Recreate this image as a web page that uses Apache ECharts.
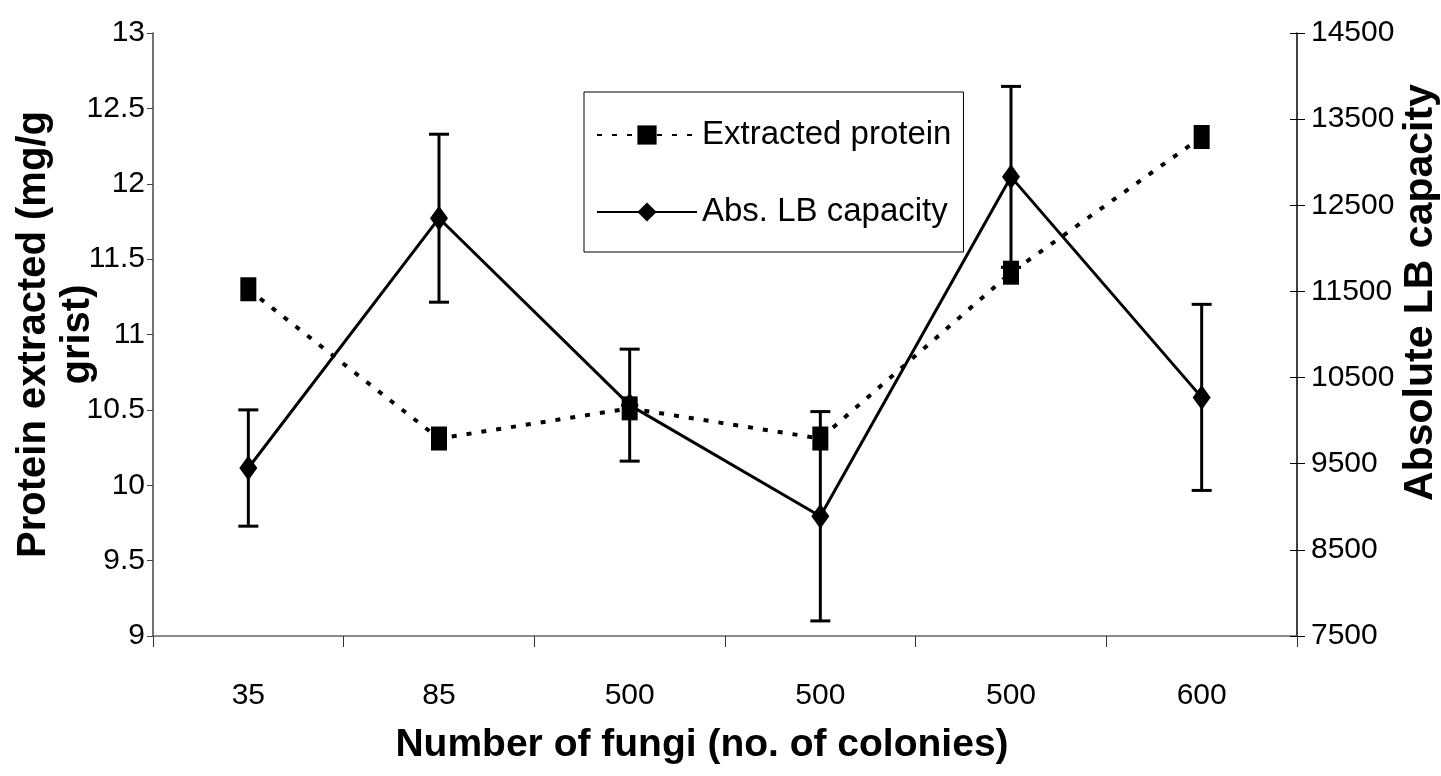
<!DOCTYPE html>
<html>
<head>
<meta charset="utf-8">
<script src="https://cdn.jsdelivr.net/npm/echarts@6/dist/echarts.min.js"></script>
<style>
  html, body { margin: 0; padding: 0; background: #fff; }
  #chart { width: 1441px; height: 776px; }
</style>
</head>
<body>
<div id="chart"></div>
<script>
// Colony counts on the x axis (repeated counts are separate samples)
const categories = ['35', '85', '500', '500', '500', '600'];
// Protein extracted, mg/g grist (left axis)
const extractedProtein = [11.30, 10.31, 10.51, 10.31, 11.41, 12.31];
// Absolute LB capacity (right axis) and its error half-widths
const lbCapacity = [9450, 12350, 10180, 8890, 12830, 10270];
const lbCapacityErr = [675, 975, 650, 1215, 1050, 1080];
// Axis ranges
const proteinAxis = { min: 9, max: 13, interval: 0.5 };
const lbAxis = { min: 7500, max: 14500, interval: 1000 };

const font = '"Liberation Sans", Arial, sans-serif';

const errorData = lbCapacity.map((v, i) => [i, v - lbCapacityErr[i], v + lbCapacityErr[i]]);

const chart = echarts.init(document.getElementById('chart'), null, { renderer: 'canvas' });

chart.setOption({
  backgroundColor: '#fff',
  animation: false,
  grid: { left: 153, right: 144, top: 33, bottom: 140, containLabel: false, outerBoundsMode: 'none' },
  legend: {
    data: ['Extracted protein', 'Abs. LB capacity'],
    orient: 'vertical',
    left: 584,
    top: 92,
    padding: [21, 12, 18, 12],
    itemGap: 33,
    itemWidth: 100,
    itemHeight: 24,
    borderColor: '#000',
    borderWidth: 1,
    textStyle: { fontSize: 33, fontFamily: font, color: '#000', lineHeight: 44 }
  },
  xAxis: {
    type: 'category',
    data: categories,
    boundaryGap: true,
    axisLine: { lineStyle: { color: '#666', width: 1.5 } },
    axisTick: { show: true, length: 11, lineStyle: { color: '#333', width: 1 } },
    axisLabel: { interval: 0, fontSize: 30, fontFamily: font, color: '#000', margin: 45 },
    name: 'Number of fungi (no. of colonies)',
    nameLocation: 'middle',
    nameGap: 90,
    nameMoveOverlap: false,
    nameTextStyle: {
      fontSize: 39, fontWeight: 'bold', fontFamily: font, color: '#000',
      padding: [0, 46, 0, 0]
    }
  },
  yAxis: [
    {
      type: 'value',
      position: 'left',
      min: proteinAxis.min, max: proteinAxis.max, interval: proteinAxis.interval,
      axisLine: { show: true, lineStyle: { color: '#444', width: 1.5 } },
      axisTick: { show: true, length: 6, lineStyle: { color: '#444' } },
      splitLine: { show: false },
      axisLabel: { fontSize: 30, fontFamily: font, color: '#000', margin: 8, formatter: v => String(v) },
      name: 'Protein extracted (mg/g\ngrist)',
      nameLocation: 'middle',
      nameRotate: 90,
      nameGap: 53,
      nameMoveOverlap: false,
      nameTextStyle: { fontSize: 40, fontWeight: 'bold', fontFamily: font, color: '#000', lineHeight: 44 }
    },
    {
      type: 'value',
      position: 'right',
      min: lbAxis.min, max: lbAxis.max, interval: lbAxis.interval,
      axisLine: { show: true, lineStyle: { color: '#000', width: 1.5 } },
      axisTick: { show: true, length: 8, lineStyle: { color: '#000' } },
      splitLine: { show: false },
      axisLabel: { fontSize: 30, fontFamily: font, color: '#000', margin: 14, formatter: v => String(v) },
      name: 'Absolute LB capacity',
      nameLocation: 'middle',
      nameRotate: 90,
      nameGap: 103,
      nameMoveOverlap: false,
      nameTextStyle: {
        fontSize: 41, fontWeight: 'bold', fontFamily: font, color: '#000',
        padding: [0, 0, 0, 84]
      }
    },
    {
      // inner half of the crossing ticks on the right axis
      type: 'value',
      position: 'right',
      min: lbAxis.min, max: lbAxis.max, interval: lbAxis.interval,
      axisLine: { show: false },
      axisTick: { show: true, inside: true, length: 7, lineStyle: { color: '#000' } },
      axisLabel: { show: false },
      splitLine: { show: false }
    }
  ],
  series: [
    {
      name: 'Abs. LB capacity error',
      type: 'custom',
      yAxisIndex: 1,
      z: 2,
      encode: { x: 0, y: [1, 2] },
      data: errorData,
      renderItem: function (params, api) {
        const x = api.value(0);
        const lo = api.coord([x, api.value(1)]);
        const hi = api.coord([x, api.value(2)]);
        const half = 10;
        const style = { stroke: '#000', lineWidth: 3 };
        return {
          type: 'group',
          children: [
            { type: 'line', shape: { x1: lo[0], y1: lo[1], x2: hi[0], y2: hi[1] }, style: style },
            { type: 'line', shape: { x1: hi[0] - half, y1: hi[1], x2: hi[0] + half, y2: hi[1] }, style: style },
            { type: 'line', shape: { x1: lo[0] - half, y1: lo[1], x2: lo[0] + half, y2: lo[1] }, style: style }
          ]
        };
      }
    },
    {
      name: 'Abs. LB capacity',
      type: 'line',
      yAxisIndex: 1,
      z: 3,
      data: lbCapacity,
      symbol: 'diamond',
      symbolSize: [18, 25],
      itemStyle: { color: '#000' },
      lineStyle: { color: '#000', width: 3 }
    },
    {
      name: 'Extracted protein',
      type: 'line',
      yAxisIndex: 0,
      z: 5,
      data: extractedProtein,
      symbol: 'rect',
      symbolSize: [16, 24],
      itemStyle: { color: '#000' },
      lineStyle: { color: '#000', width: 4, type: [5, 10] }
    }
  ]
});
</script>
</body>
</html>
